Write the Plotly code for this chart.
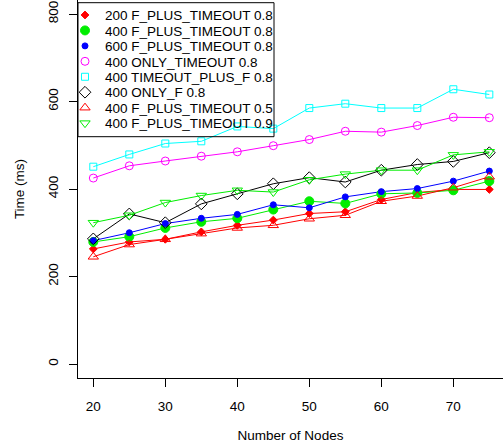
import plotly.graph_objects as go

nodes = [20, 25, 30, 35, 40, 45, 50, 55, 60, 65, 70, 75]

fpt_200_08 = [263, 279, 285, 302, 317, 329, 344, 348, 376, 392, 399, 399]
fpt_400_08 = [279, 291, 311, 325, 333, 353, 372, 367, 389, 391, 397, 418]
fpt_600_08 = [282, 300, 321, 333, 342, 364, 357, 382, 394, 401, 418, 441]
only_timeout_400 = [425, 453, 464, 475, 485, 499, 513, 532, 530, 545, 564, 563]
timeout_plus_f_400 = [451, 479, 504, 509, 543, 538, 585, 595, 585, 585, 628, 616]
only_f_400 = [286, 343, 323, 366, 389, 412, 426, 416, 443, 456, 463, 483]
fpt_400_05 = [245, 273, 285, 298, 311, 317, 332, 340, 372, 384, 403, 428]
fpt_400_09 = [323, 340, 369, 385, 397, 393, 421, 434, 443, 443, 478, 485]

series = [
    ("200 F_PLUS_TIMEOUT 0.8", fpt_200_08, "#ff0000", "diamond", 6),
    ("400 F_PLUS_TIMEOUT 0.8", fpt_400_08, "#00ee00", "circle", 9),
    ("600 F_PLUS_TIMEOUT 0.8", fpt_600_08, "#0000ff", "circle", 6),
    ("400 ONLY_TIMEOUT 0.8", only_timeout_400, "#ff00ff", "circle-open", 8),
    ("400 TIMEOUT_PLUS_F 0.8", timeout_plus_f_400, "#00ffff", "square-open", 7),
    ("400 ONLY_F 0.8", only_f_400, "#000000", "diamond-open", 9),
    ("400 F_PLUS_TIMEOUT 0.5", fpt_400_05, "#ff0000", "triangle-up-open", 9),
    ("400 F_PLUS_TIMEOUT 0.9", fpt_400_09, "#00ee00", "triangle-down-open", 9),
]

FONT = "Liberation Sans, Arial, Helvetica, sans-serif"
FS = 13.5

# layout geometry (pixels)
W, H = 503, 448
ML, MB = 78, 70
PW, PH = W - ML, H - MB
LEG_ROW0, LEG_ROW_STEP = 15.2, 15.45
LEG_X_PX = 65
BOX = dict(x0=78, x1=274, y0=2.7, y1=136.7)

fig = go.Figure()
for name, ys, color, sym, size in series:
    fig.add_trace(go.Scatter(
        x=nodes, y=ys, mode="lines", showlegend=False,
        line=dict(color=color, width=1), hoverinfo="skip"))

legends = {}
for i, (name, ys, color, sym, size) in enumerate(series):
    key = "legend" if i == 0 else f"legend{i + 1}"
    fig.add_trace(go.Scatter(
        x=nodes, y=ys, mode="markers", name=name, legend=key,
        marker=dict(symbol=sym, size=size, color=color,
                    line=dict(color=color, width=1))))
    legends[key] = dict(
        x=(LEG_X_PX - ML) / PW, xanchor="left",
        y=1 - (LEG_ROW0 + LEG_ROW_STEP * i) / PH, yanchor="middle",
        bgcolor="rgba(0,0,0,0)", borderwidth=0,
        font=dict(family=FONT, size=FS, color="black"),
        itemwidth=30,
    )

fig.update_layout(
    width=W, height=H,
    margin=dict(l=ML, r=0, t=0, b=MB, autoexpand=False),
    plot_bgcolor="white", paper_bgcolor="white",
    font=dict(family=FONT, size=FS, color="black"),
    showlegend=True,
    shapes=[dict(
        type="rect", xref="paper", yref="paper",
        x0=(BOX["x0"] - ML) / PW, x1=(BOX["x1"] - ML) / PW,
        y0=1 - BOX["y1"] / PH, y1=1 - BOX["y0"] / PH,
        line=dict(color="black", width=1), fillcolor="rgba(0,0,0,0)",
    )],
    xaxis=dict(
        range=[17.875, 76.9], dtick=10, tick0=0,
        showline=True, linecolor="black", linewidth=1,
        ticks="outside", ticklen=8, tickcolor="black", tickwidth=1,
        showgrid=False, zeroline=False, automargin=False,
        ticklabelstandoff=8,
        tickfont=dict(family=FONT, size=FS),
        title=dict(text="Number of Nodes", standoff=17,
                   font=dict(family=FONT, size=FS)),
    ),
    yaxis=dict(
        range=[-32, 832], dtick=200, tick0=0,
        showline=True, linecolor="black", linewidth=1,
        ticks="outside", ticklen=8, tickcolor="black", tickwidth=1,
        showgrid=False, zeroline=False, automargin=False,
        tickangle=-90, ticklabelstandoff=6,
        tickfont=dict(family=FONT, size=FS),
        title=dict(text="Time (ms)", standoff=17,
                   font=dict(family=FONT, size=FS)),
    ),
)
fig.update_layout(**legends)

fig.write_html(
    "out.html",
    config={"displayModeBar": False},
    post_script="document.body.style.margin='0';document.body.style.overflow='hidden';",
)
